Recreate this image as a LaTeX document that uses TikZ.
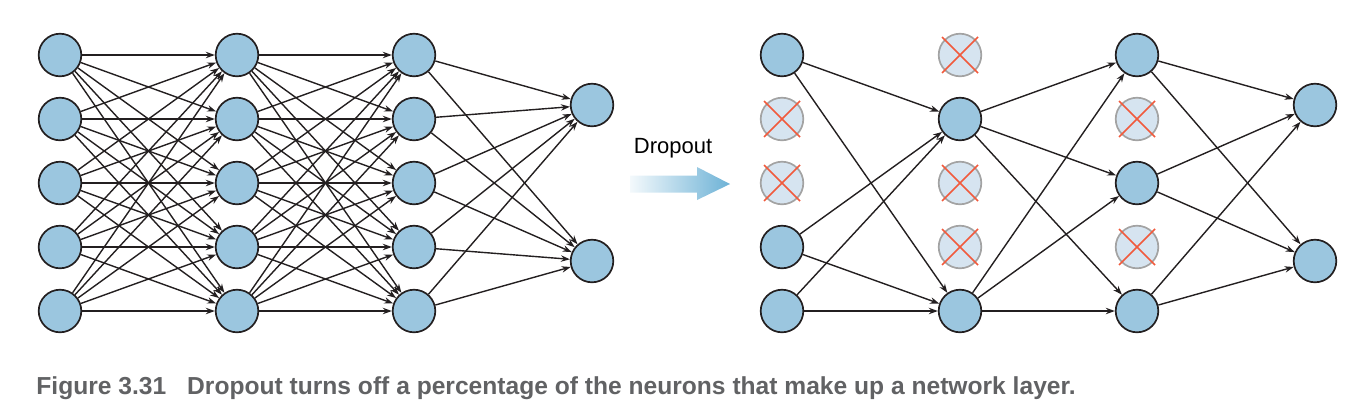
\documentclass[tikz,border=0pt]{standalone}
\usepackage{fontspec}
\setmainfont{Liberation Sans}
\usepackage{tikz}
\usetikzlibrary{arrows.meta, calc}
\definecolor{neuronfill}{HTML}{9BC6DF}
\definecolor{neuronline}{HTML}{231F20}
\definecolor{dropfill}{HTML}{D6E4F0}
\definecolor{dropline}{HTML}{A3A3A3}
\definecolor{crossred}{HTML}{F15A3C}
\definecolor{arrowblue}{HTML}{6DB2D6}
\definecolor{captiongray}{HTML}{616264}
\tikzset{
  neuron/.style={circle, draw=neuronline, fill=neuronfill, line width=0.85pt,
                 minimum size=21.3pt, inner sep=0pt},
  dropped/.style={circle, draw=dropline, fill=dropfill, line width=0.85pt,
                  minimum size=21.3pt, inner sep=0pt},
  xmark/.style={crossred, line width=0.75pt},
  conn/.style={-{Stealth[length=4.5pt, width=3.2pt]}, neuronline, line width=0.7pt},
}

\begin{document}
\begin{tikzpicture}[x=0.5pt, y=-0.5pt]
  \useasboundingbox (0,0) rectangle (1363,419);

  %% Left: full network
  \foreach \c/\x in {1/60, 2/237, 3/414}
    \foreach \r/\y in {1/55, 2/119, 3/183, 4/247, 5/311}
      \node[neuron] (L-\c-\r) at (\x,\y) {};
  \node[neuron] (L-4-1) at (592,105) {};
  \node[neuron] (L-4-2) at (592,261) {};

  \foreach \a in {1,...,5}
    \foreach \b in {1,...,5} {
      \draw[conn] (L-1-\a) -- (L-2-\b);
      \draw[conn] (L-2-\a) -- (L-3-\b);
    }
  \foreach \a in {1,...,5}
    \foreach \b in {1,2}
      \draw[conn] (L-3-\a) -- (L-4-\b);

  %% Dropout arrow
  \shade[left color=arrowblue!8, right color=arrowblue]
    (630,175.5) -- (697,175.5) -- (697,167) -- (730,184) -- (697,200)
    -- (697,192.5) -- (630,192.5) -- cycle;
  \node[font=\fontsize{11}{13}\selectfont] (droplbl) at (673,148) {Dropout};

  %% Right: thinned network
  \foreach \c/\x/\keep/\drop in {1/782/{1,4,5}/{2,3}, 2/960/{2,5}/{1,3,4},
                                 3/1137/{1,3,5}/{2,4}} {
    \foreach \r in \keep
      \node[neuron] (R-\c-\r) at (\x,{55+64*(\r-1)}) {};
    \foreach \r in \drop {
      \node[dropped] (R-\c-\r) at (\x,{55+64*(\r-1)}) {};
      \draw[xmark] ([shift={(-18,-18)}]R-\c-\r.center) -- ([shift={(18,18)}]R-\c-\r.center);
      \draw[xmark] ([shift={(-18,18)}]R-\c-\r.center) -- ([shift={(18,-18)}]R-\c-\r.center);
    }
  }
  \node[neuron] (R-4-1) at (1315,105) {};
  \node[neuron] (R-4-2) at (1315,261) {};

  \foreach \a in {1,4,5}
    \foreach \b in {2,5}
      \draw[conn] (R-1-\a) -- (R-2-\b);
  \foreach \a in {2,5}
    \foreach \b in {1,3,5}
      \draw[conn] (R-2-\a) -- (R-3-\b);
  \foreach \a in {1,3,5}
    \foreach \b in {1,2}
      \draw[conn] (R-3-\a) -- (R-4-\b);

  %% Caption
  \node[anchor=west, inner sep=0pt, text=captiongray,
        font=\bfseries\fontsize{12.3}{14}\selectfont] (caption) at (36,388)
    {Figure 3.31\hspace{0.85em}Dropout turns off a percentage of the neurons that make up a network layer.};
\end{tikzpicture}
\end{document}
